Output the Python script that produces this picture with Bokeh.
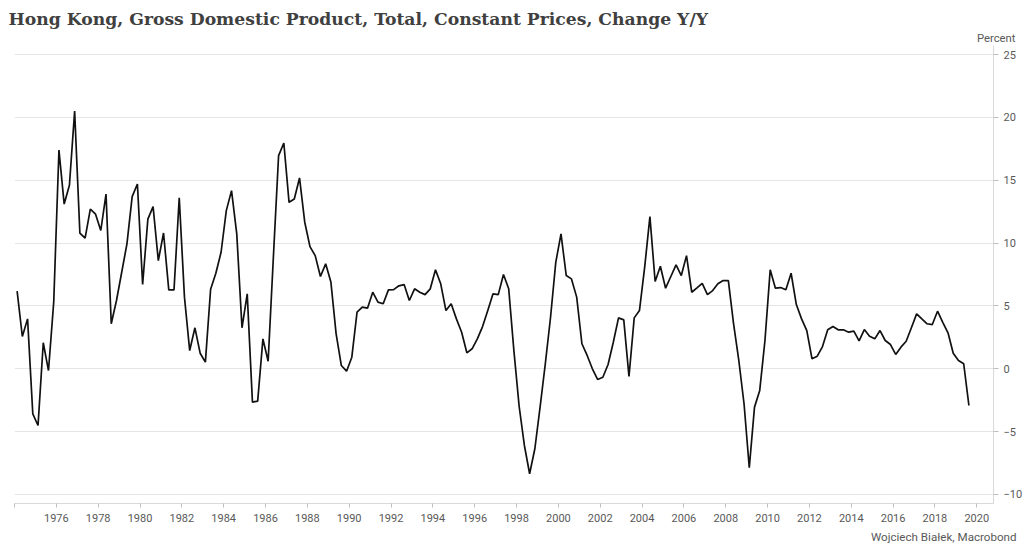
from bokeh.plotting import figure
from bokeh.models import Range1d, FixedTicker, Title
from bokeh.embed import file_html
from bokeh.resources import INLINE

# Quarterly data, 1974Q1 .. 2019Q3 (percent change y/y)
start_year = 1974
gdp_yy = [
    6.17, 2.57, 3.97, -3.58,      # 1974
    -4.51, 2.07, -0.14, 5.3,      # 1975
    17.4, 13.1, 14.6, 20.5,       # 1976
    10.8, 10.4, 12.7, 12.3,       # 1977
    11.0, 13.9, 3.58, 5.43,       # 1978
    7.68, 9.94, 13.7, 14.7,       # 1979
    6.7, 11.9, 12.9, 8.6,         # 1980
    10.8, 6.28, 6.28, 13.6,       # 1981
    5.7, 1.45, 3.26, 1.24,        # 1982
    0.53, 6.33, 7.6, 9.27,        # 1983
    12.58, 14.17, 10.73, 3.26,    # 1984
    5.96, -2.65, -2.57, 2.38,     # 1985
    0.6, 8.87, 16.96, 17.96,      # 1986
    13.24, 13.5, 15.18, 11.66,    # 1987
    9.72, 9.0, 7.34, 8.35,        # 1988
    6.9, 2.78, 0.26, -0.19,       # 1989
    0.92, 4.5, 4.9, 4.82,         # 1990
    6.09, 5.3, 5.17, 6.28,        # 1991
    6.3, 6.6, 6.7, 5.43,          # 1992
    6.36, 6.09, 5.9, 6.36,        # 1993
    7.87, 6.76, 4.63, 5.17,       # 1994
    3.97, 2.91, 1.27, 1.59,       # 1995
    2.38, 3.36, 4.63, 5.96,       # 1996
    5.9, 7.5, 6.36, 1.4,          # 1997
    -3.0, -6.1, -8.35, -6.36,     # 1998
    -3.05, 0.4, 4.1, 8.47,        # 1999
    10.73, 7.42, 7.15, 5.7,       # 2000
    1.99, 1.06, 0.0, -0.85,       # 2001
    -0.67, 0.34, 2.11, 4.05,      # 2002
    3.89, -0.61, 4.05, 4.63,      # 2003
    8.08, 12.1, 6.94, 8.16,       # 2004
    6.41, 7.34, 8.27, 7.42,       # 2005
    9.0, 6.09, 6.44, 6.8,         # 2006
    5.9, 6.22, 6.76, 7.02,        # 2007
    7.02, 3.58, 0.66, -2.78,      # 2008
    -7.87, -3.05, -1.72, 2.25,    # 2009
    7.87, 6.41, 6.46, 6.28,       # 2010
    7.6, 5.11, 3.97, 3.04,        # 2011
    0.79, 1.0, 1.77, 3.1,         # 2012
    3.36, 3.1, 3.1, 2.91,         # 2013
    2.99, 2.22, 3.12, 2.59,       # 2014
    2.38, 3.04, 2.25, 1.93,       # 2015
    1.14, 1.72, 2.19, 3.26,       # 2016
    4.37, 3.97, 3.58, 3.52,       # 2017
    4.58, 3.7, 2.86, 1.24,        # 2018
    0.66, 0.4, -2.92,             # 2019
]
dates = [start_year + (i // 4) + ((i % 4) + 0.5) / 4.0 for i in range(len(gdp_yy))]

x_ticks = list(range(1974, 2021, 2))
y_ticks = [-10, -5, 0, 5, 10, 15, 20, 25]

title_text = "Hong Kong, Gross Domestic Product, Total, Constant Prices, Change Y/Y"
unit_text = "Percent"
source_text = "Wojciech Białek, Macrobond"

label_font = "Roboto"
label_color = "#595959"

p = figure(
    frame_width=979, frame_height=458,
    x_range=Range1d(1974.0, 2020.8), y_range=Range1d(-10.716, 25.716),
    output_backend="svg", toolbar_location=None,
    y_axis_location="right",
    min_border_left=14, min_border_right=0, min_border_top=45, min_border_bottom=0,
    background_fill_color="white", border_fill_color="white",
)
p.outline_line_color = None

p.title.text = title_text
p.title.text_font = "DejaVu Serif"
p.title.text_font_style = "bold"
p.title.text_font_size = "17.2px"
p.title.text_color = "#404040"
p.title.offset = -6
p.title.standoff = 0

p.add_layout(Title(text=unit_text, align="right", text_font=label_font,
                   text_font_size="11.3px", text_font_style="normal",
                   text_color=label_color, offset=-22, standoff=2), "above")

p.add_layout(Title(text=source_text, align="right", text_font=label_font,
                   text_font_size="11.6px", text_font_style="normal",
                   text_color=label_color, offset=-23, standoff=7), "below")

# x axis
xa = p.xaxis[0]
xa.ticker = FixedTicker(ticks=x_ticks)
xa.major_label_overrides = {1974: ""}
xa.axis_line_color = "#d9d9d9"
xa.major_tick_line_color = "#bfbfbf"
xa.major_tick_in = 0
xa.major_tick_out = 4
xa.minor_tick_line_color = None
xa.major_label_text_font = label_font
xa.major_label_text_font_size = "11px"
xa.major_label_text_color = label_color
xa.major_label_standoff = 6

# y axis (right)
ya = p.yaxis[0]
ya.ticker = FixedTicker(ticks=y_ticks)
ya.axis_line_color = "#d9d9d9"
ya.major_tick_line_color = "#bfbfbf"
ya.major_tick_in = 0
ya.major_tick_out = 5
ya.minor_tick_line_color = None
ya.major_label_text_font = label_font
ya.major_label_text_font_size = "11px"
ya.major_label_text_color = label_color
ya.major_label_standoff = 5

p.xgrid.visible = False
p.ygrid.ticker = FixedTicker(ticks=y_ticks)
p.ygrid.grid_line_color = "#e6e6e6"
p.ygrid.grid_line_width = 1

p.line(dates, gdp_yy, line_color="#111111", line_width=1.7)

open("out.html", "w").write(file_html(p, INLINE))
